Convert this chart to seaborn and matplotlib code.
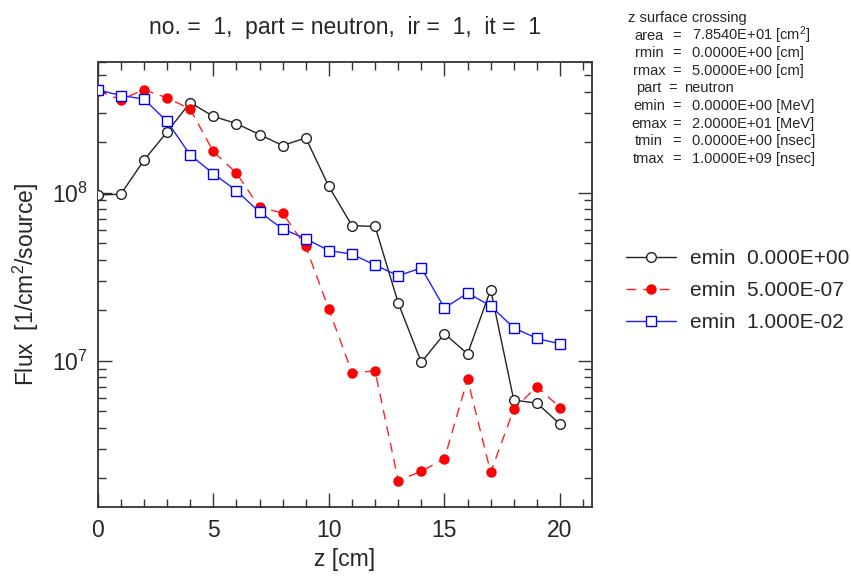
import numpy as np
import pandas as pd
import matplotlib
matplotlib.use("Agg")
import matplotlib.pyplot as plt
import matplotlib.ticker as mticker
import seaborn as sns

# Flux along z for three emin cuts
z = list(range(21))
flux_e0 = [9.7e7, 9.8e7, 1.56e8, 2.30e8, 3.44e8, 2.85e8, 2.58e8, 2.22e8, 1.91e8, 2.12e8,
           1.09e8, 6.37e7, 6.30e7, 2.21e7, 9.8e6, 1.45e7, 1.10e7, 2.65e7, 5.84e6, 5.6e6, 4.2e6]
flux_e1 = [4.05e8, 3.58e8, 4.10e8, 3.67e8, 3.15e8, 1.76e8, 1.31e8, 8.2e7, 7.57e7, 4.79e7,
           2.03e7, 8.5e6, 8.7e6, 1.94e6, 2.2e6, 2.62e6, 7.78e6, 2.17e6, 5.15e6, 7.03e6, 5.27e6]
flux_e2 = [4.10e8, 3.79e8, 3.61e8, 2.66e8, 1.68e8, 1.30e8, 1.03e8, 7.67e7, 6.10e7, 5.32e7,
           4.53e7, 4.31e7, 3.71e7, 3.21e7, 3.57e7, 2.06e7, 2.53e7, 2.12e7, 1.57e7, 1.36e7, 1.26e7]
labels = ["emin  0.000E+00", "emin  5.000E-07", "emin  1.000E-02"]

info_keys = ["area", "rmin", "rmax", "part", "emin", "emax", "tmin", "tmax"]
info_vals = [r"7.8540E+01 [$\mathregular{cm^2}$]", "0.0000E+00 [cm]", "5.0000E+00 [cm]", "neutron",
             "0.0000E+00 [MeV]", "2.0000E+01 [MeV]", "0.0000E+00 [nsec]", "1.0000E+09 [nsec]"]

sns.set_style("ticks")
plt.rcParams["font.family"] = ["Liberation Sans", "DejaVu Sans"]
plt.rcParams["mathtext.default"] = "regular"

df = pd.DataFrame({"z": z, "e0": flux_e0, "e1": flux_e1, "e2": flux_e2})

fig = plt.figure(figsize=(8.51, 5.76), dpi=100)
ax = fig.add_axes([0.1148, 0.1198, 0.5805, 0.7726])

sns.lineplot(data=df, x="z", y="e0", ax=ax, color="#222222", lw=1, marker="o", ms=7,
             mfc="white", mec="#222222", mew=1, label=labels[0], zorder=3)
sns.lineplot(data=df, x="z", y="e1", ax=ax, color="#ff2020", lw=1, ls=(0, (7, 5)), marker="o",
             ms=7.5, mfc="red", mec="red", mew=0, label=labels[1], zorder=4)
sns.lineplot(data=df, x="z", y="e2", ax=ax, color="#2020ff", lw=1, marker="s", ms=6.5,
             mfc="white", mec="blue", mew=1, label=labels[2], zorder=5)

ax.set_yscale("log")
ax.set_xlim(0, 21.37)
ax.set_ylim(1.35e6, 6.0e8)
ax.xaxis.set_major_locator(mticker.MultipleLocator(5))
ax.xaxis.set_minor_locator(mticker.MultipleLocator(1))
ax.xaxis.set_major_formatter(mticker.FormatStrFormatter("%d"))

for s in ax.spines.values():
    s.set_color("#333333")
    s.set_linewidth(1.3)
ax.tick_params(which="both", direction="in", top=True, right=True, color="#333333", width=1)
ax.tick_params(which="major", length=10, labelsize=16.5)
ax.tick_params(which="minor", length=6)
ax.tick_params(axis="x", which="major", pad=9)
ax.tick_params(axis="y", which="major", pad=7)

ax.set_xlabel("z [cm]", fontsize=16.5, labelpad=4)
ax.set_ylabel(r"Flux  [1/cm$^2$/source]", fontsize=16.5, labelpad=8)
ax.set_title("no. =  1,  part = neutron,  ir =  1,  it =  1", fontsize=16.5, pad=20)

ax.legend_.remove()
handles, labs = ax.get_legend_handles_labels()
fig.legend(handles, labs, loc="upper left", bbox_to_anchor=(0.726, 0.582), frameon=False,
           fontsize=15, handlelength=2.4, handletextpad=0.65, labelspacing=0.62, borderaxespad=0)

# info block in the top right corner
fig.text(628 / 851, 1 - 18 / 576, "z surface crossing", fontsize=10.5, va="center", ha="left")
for i, (k, v) in enumerate(zip(info_keys, info_vals)):
    y = 1 - (35.6 + 17.6 * i) / 576
    fig.text(649 / 851, y, k, fontsize=10.5, va="center", ha="center")
    ex = 673 if k == "part" else 677
    fig.text(ex / 851, y, "=", fontsize=10.5, va="center", ha="center")
    vx = 684 if k == "part" else 692
    fig.text(vx / 851, y, v, fontsize=10.5, va="center", ha="left")

fig.savefig("out.png", dpi=100)
